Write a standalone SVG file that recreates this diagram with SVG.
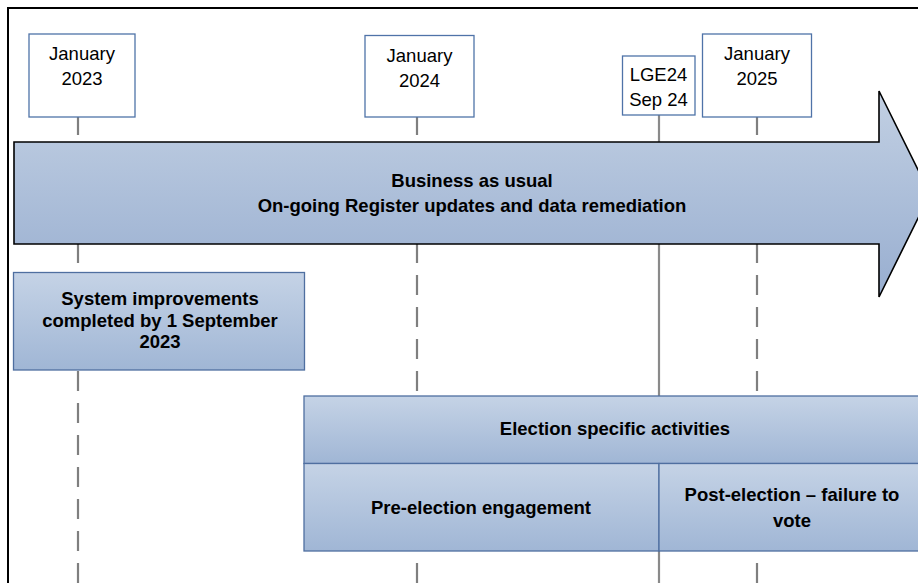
<svg xmlns="http://www.w3.org/2000/svg" width="918" height="583" viewBox="0 0 918 583">
  <defs>
    <linearGradient id="arrowFill" gradientUnits="userSpaceOnUse" x1="0" y1="91" x2="0" y2="297">
      <stop offset="0" stop-color="#c2d0e3"/>
      <stop offset="1" stop-color="#98aed0"/>
    </linearGradient>
    <linearGradient id="boxFill" x1="0" y1="0" x2="0" y2="1">
      <stop offset="0" stop-color="#c5d3e6"/>
      <stop offset="1" stop-color="#a0b6d5"/>
    </linearGradient>
    <style>
      text { font-family: "Liberation Sans", Arial, sans-serif; font-size: 18.5px; fill: #000; text-anchor: middle; }
      .bold { font-weight: bold; }
      .date { fill: #fff; stroke: #4f73a8; stroke-width: 1.3; }
      .band { fill: url(#boxFill); stroke: #4f6fa0; stroke-width: 1.3; }
      .dash { stroke: #7f7f7f; stroke-width: 2.2; stroke-dasharray: 20 12; fill: none; }
      .solid { stroke: #8a8a8a; stroke-width: 2.2; fill: none; }
    </style>
  </defs>

  <rect width="918" height="583" fill="#fff"/>
  <!-- page frame -->
  <path d="M8,583 V8 H918" fill="none" stroke="#000" stroke-width="2"/>

  <!-- timeline markers -->
  <g id="connectors">
    <path class="dash" d="M78,115 V583"/>
    <path class="dash" d="M417,115 V583"/>
    <path class="solid" d="M659,115 V583"/>
    <path class="dash" d="M757,115 V583"/>
  </g>

  <g id="date-2023">
    <rect class="date" x="29" y="34" width="106" height="83"/>
    <text x="82" y="60">January</text>
    <text x="82" y="85">2023</text>
  </g>
  <g id="date-2024">
    <rect class="date" x="365" y="35.5" width="109" height="81.5"/>
    <text x="419.5" y="61.5">January</text>
    <text x="419.5" y="86.5">2024</text>
  </g>
  <g id="date-lge24">
    <rect class="date" x="622.5" y="56" width="72.5" height="59"/>
    <text x="658.5" y="81">LGE24</text>
    <text x="658.5" y="105.5">Sep 24</text>
  </g>
  <g id="date-2025">
    <rect class="date" x="702.5" y="34" width="109" height="83"/>
    <text x="757" y="59.5">January</text>
    <text x="757" y="84.5">2025</text>
  </g>

  <g id="business-as-usual">
    <path d="M14,142 H879 V91 L930,194 L879,297 V244 H14 Z" fill="url(#arrowFill)" stroke="#000" stroke-width="1.6" stroke-linejoin="miter"/>
    <text class="bold" x="472" y="187">Business as usual</text>
    <text class="bold" x="472" y="212">On-going Register updates and data remediation</text>
  </g>

  <g id="system-improvements">
    <rect class="band" x="13.5" y="272.5" width="291" height="97.5"/>
    <text class="bold" x="160" y="305">System improvements</text>
    <text class="bold" x="160" y="326.5">completed by 1 September</text>
    <text class="bold" x="160" y="347.5">2023</text>
  </g>

  <g id="election-specific">
    <rect class="band" x="304" y="396" width="622" height="67.5"/>
    <text class="bold" x="615" y="435">Election specific activities</text>
  </g>

  <g id="pre-election">
    <rect class="band" x="304" y="463.5" width="355" height="87.5"/>
    <text class="bold" x="481" y="514">Pre-election engagement</text>
  </g>

  <g id="post-election">
    <rect class="band" x="659" y="463.5" width="267" height="87.5"/>
    <text class="bold" x="792" y="500.5">Post-election – failure to</text>
    <text class="bold" x="792" y="526.5">vote</text>
  </g>
</svg>
